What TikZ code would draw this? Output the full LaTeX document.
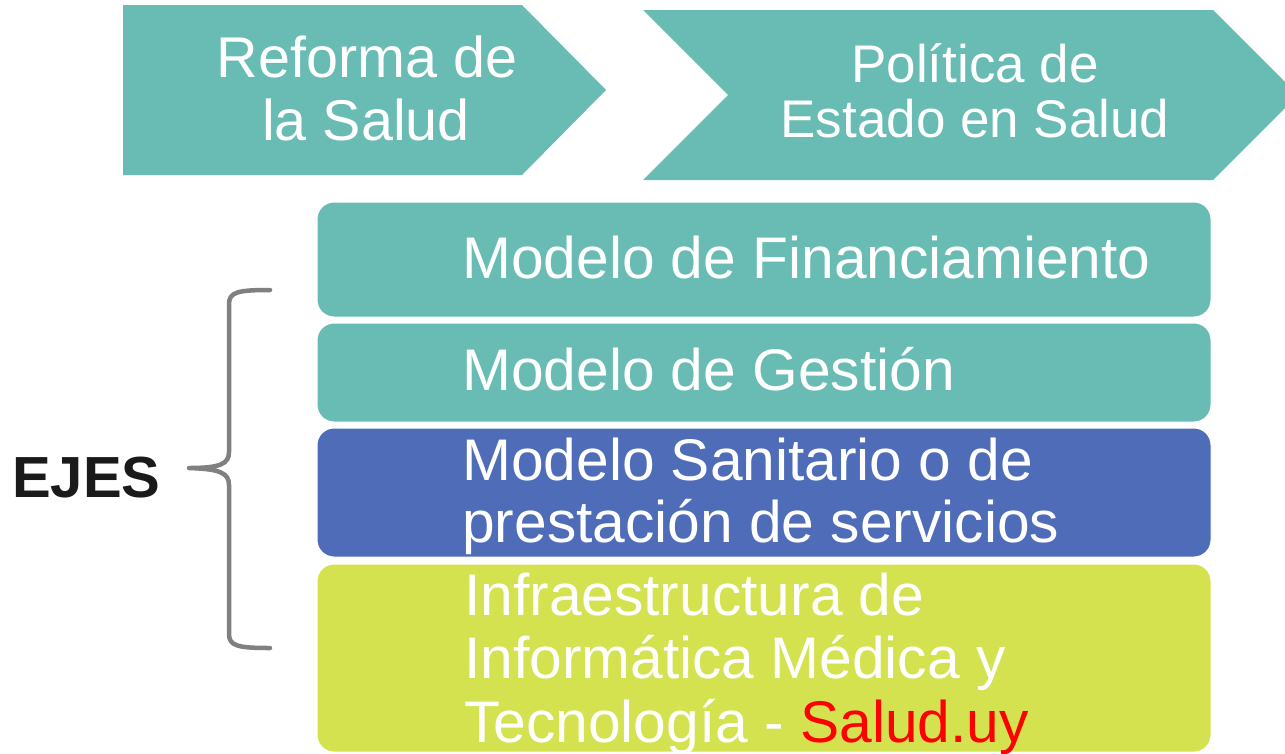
\documentclass[tikz,border=0pt]{standalone}
\usepackage{fontspec}
\setmainfont{Liberation Sans}
\definecolor{teal1}{RGB}{104,188,180}
\definecolor{blue1}{RGB}{79,108,185}
\definecolor{lime1}{RGB}{212,226,80}
\definecolor{brace1}{RGB}{128,128,128}
\definecolor{ink}{RGB}{26,26,26}
\tikzset{
  shapefill/.style={fill=#1, draw=none},
  axisbox/.style={fill=#1, draw=white, line width=1pt, rounded corners=17pt},
  boxtext/.style={text=white, inner sep=0pt, anchor=base west, font=\fontsize{58.7}{63}\selectfont},
  arrtext/.style={text=white, inner sep=0pt, anchor=base, font=\fontsize{57.5}{63}\selectfont},
  chevtext/.style={text=white, inner sep=0pt, anchor=base, font=\fontsize{53}{56}\selectfont},
  bracestyle/.style={draw=brace1, line width=4.5pt, line cap=round, line join=round}
}
\begin{document}
\begin{tikzpicture}[x=1pt,y=-1pt]
\useasboundingbox (0,0) rectangle (1285,753);
\clip (0,0) rectangle (1285,753);
\fill[white] (0,0) rectangle (1285,753);

% top arrows
\path[shapefill=teal1] (123,5) -- (522,5) -- (606,90) -- (522,175) -- (123,175) -- cycle;
\path[shapefill=teal1] (643,10) -- (1213,10) -- (1298,95) -- (1213,180) -- (643,180) -- (728,95) -- cycle;

\node[arrtext] (r1) at (367,77) {Reforma de};
\node[arrtext] (r2) at (366,140) {la Salud};
\node[chevtext] (p1) at (975,82) {Política de};
\node[chevtext] (p2) at (975,137) {Estado en Salud};

% axis boxes
\path[axisbox=teal1] (317,202) rectangle (1211,317);
\path[axisbox=teal1] (317,323) rectangle (1211,422);
\path[axisbox=blue1] (317,428) rectangle (1211,557);
\path[axisbox=lime1] (317,564) rectangle (1211,752);

\node[boxtext] (b1) at (462,278) {Modelo de Financiamiento};
\node[boxtext] (b2) at (462,390) {Modelo de Gestión};
\node[boxtext] (b3a) at (462,480) {Modelo Sanitario o de};
\node[boxtext] (b3b) at (462,542) {prestación de servicios};
\node[boxtext] (b4a) at (464,615) {Infraestructura de};
\node[boxtext] (b4b) at (464,678) {Informática Médica y};
\node[boxtext] (b4c) at (464,742) {Tecnología - \textcolor{red}{Salud.uy}};

% EJES and brace
\node[text=ink, inner sep=0pt, anchor=base west, font=\fontsize{58}{63}\selectfont\bfseries] (ejes) at (12,497) {EJES};
\coordinate (bt) at (270,290);
\coordinate (bm) at (189,468);
\coordinate (bb) at (270,648);
\draw[bracestyle] (bt) .. controls (238,290) and (229,292) .. (229,304)
  -- (229,452) .. controls (229,464) and (220,468) .. (bm)
  .. controls (220,469) and (229,473) .. (229,485)
  -- (229,634) .. controls (229,646) and (238,648) .. (bb);
\end{tikzpicture}
\end{document}
